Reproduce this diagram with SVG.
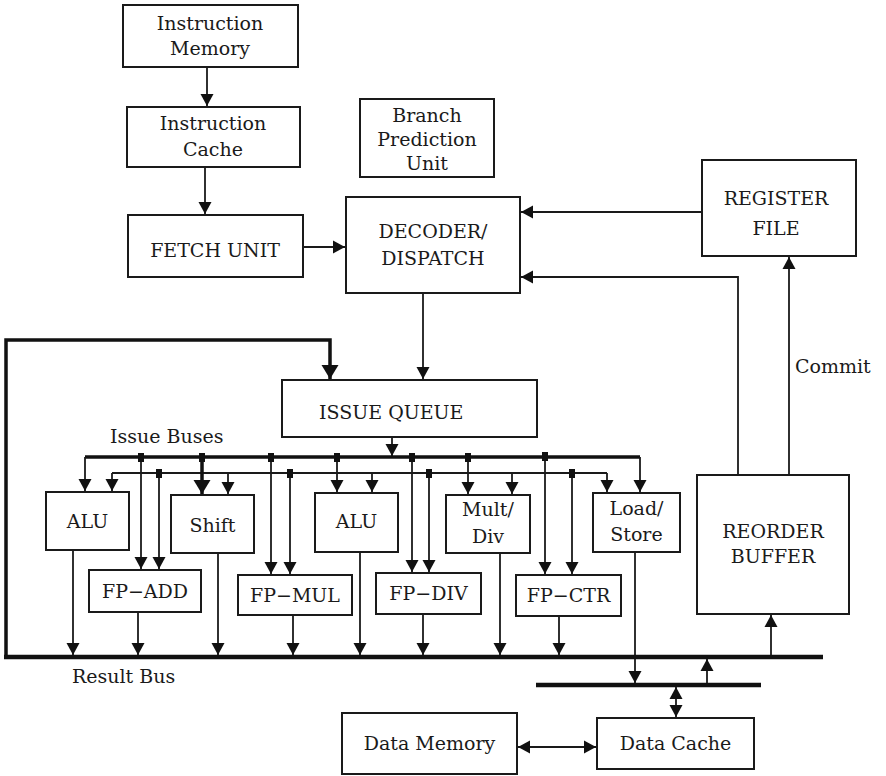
<svg xmlns="http://www.w3.org/2000/svg" width="886" height="776" viewBox="0 0 886 776">
  <style>
    .box { fill: #fff; stroke: #1a1a1a; stroke-width: 2; }
    text { font-family: "DejaVu Serif", "Liberation Serif", serif; font-size: 19px; fill: #1a1a1a; }
    .lbl { text-anchor: middle; }
    .lbl-s { text-anchor: start; }
    .wire { fill: none; stroke: #1a1a1a; stroke-width: 1.8; }
    .wire-a { fill: none; stroke: #1a1a1a; stroke-width: 1.8; marker-end: url(#arr); }
    .wire-d { fill: none; stroke: #1a1a1a; stroke-width: 1.8; marker-start: url(#arr); marker-end: url(#arr); }
    .bus { fill: none; stroke: #111; stroke-width: 4.5; }
    .bus-i { fill: none; stroke: #111; stroke-width: 3.5; }
    .thick-a { fill: none; stroke: #111; stroke-width: 3.5; marker-end: url(#arrBig); }
    .tap { fill: #111; }
  </style>
  <defs>
    <marker id="arr" markerUnits="userSpaceOnUse" markerWidth="14" markerHeight="14" refX="12" refY="7" orient="auto-start-reverse">
      <path d="M0,0.5 L12,7 L0,13.5 z" fill="#111"/>
    </marker>
    <marker id="arrBig" markerUnits="userSpaceOnUse" markerWidth="15" markerHeight="18" refX="14" refY="9" orient="auto">
      <path d="M0,0.5 L14,9 L0,17.5 z" fill="#111"/>
    </marker>
  </defs>

  <!-- connectors -->
  <g id="connectors">
    <!-- front end -->
    <path class="wire-a" d="M207,67 L207,106"/>
    <path class="wire-a" d="M205,167 L205,214"/>
    <path class="wire-a" d="M303,247 L345,247"/>
    <path class="wire-a" d="M702,212 L521,212"/>
    <path class="wire-a" d="M738,475 L738,277 L521,277"/>
    <path class="wire-a" d="M789,475 L789,257"/>
    <path class="wire-a" d="M423,293 L423,379"/>

    <!-- result feedback loop into the issue queue -->
    <path class="thick-a" d="M6,657 L6,340 L330,340 L330,379"/>

    <!-- issue queue onto issue buses -->
    <path class="wire-a" d="M392,437 L392,456"/>

    <!-- issue buses -->
    <path class="bus-i" d="M85,457 L640,457"/>
    <path class="wire" d="M112,473 L607,473"/>
    <path class="wire-a" d="M85,457 L85,491"/>
    <path class="wire-a" d="M112,473 L112,491"/>
    <path class="wire-a" d="M640,457 L640,492"/>
    <path class="wire-a" d="M607,473 L607,492"/>

    <!-- taps to units -->
    <path class="wire-a" d="M141,457 L141,569"/>
    <path class="wire-a" d="M159,473 L159,569"/>
    <path class="thick-a" d="M202,457 L202,494"/>
    <path class="wire-a" d="M228,473 L228,494"/>
    <path class="wire-a" d="M271,457 L271,574"/>
    <path class="wire-a" d="M290,473 L290,574"/>
    <path class="wire-a" d="M337,457 L337,492"/>
    <path class="wire-a" d="M372,473 L372,492"/>
    <path class="wire-a" d="M412,457 L412,572"/>
    <path class="wire-a" d="M429,473 L429,572"/>
    <path class="wire-a" d="M468,457 L468,494"/>
    <path class="wire-a" d="M512,473 L512,494"/>
    <path class="wire-a" d="M545,457 L545,574"/>
    <path class="wire-a" d="M572,473 L572,574"/>

    <!-- bus tap marks -->
    <rect class="tap" x="138" y="453" width="6" height="9"/>
    <rect class="tap" x="199" y="453" width="6" height="9"/>
    <rect class="tap" x="268" y="453" width="6" height="9"/>
    <rect class="tap" x="334" y="453" width="6" height="9"/>
    <rect class="tap" x="409" y="453" width="6" height="9"/>
    <rect class="tap" x="465" y="453" width="6" height="9"/>
    <rect class="tap" x="542" y="452" width="6" height="9"/>
    <rect class="tap" x="156" y="469" width="6" height="9"/>
    <rect class="tap" x="287" y="469" width="6" height="9"/>
    <rect class="tap" x="426" y="469" width="6" height="9"/>
    <rect class="tap" x="569" y="469" width="6" height="9"/>

    <!-- unit outputs onto result bus -->
    <path class="wire-a" d="M73,550 L73,655"/>
    <path class="wire-a" d="M138,612 L138,655"/>
    <path class="wire-a" d="M218,553 L218,655"/>
    <path class="wire-a" d="M293,615 L293,655"/>
    <path class="wire-a" d="M360,552 L360,655"/>
    <path class="wire-a" d="M423,614 L423,655"/>
    <path class="wire-a" d="M500,553 L500,655"/>
    <path class="wire-a" d="M559,616 L559,655"/>
    <path class="wire-a" d="M635,552 L635,683"/>

    <!-- result bus and memory bus -->
    <path class="bus" d="M4,657 L823,657"/>
    <path class="bus" d="M536,685 L761,685"/>
    <path class="wire-a" d="M771,655 L771,615"/>
    <path class="wire-a" d="M707,683 L707,659"/>
    <path class="wire-d" d="M676,687 L676,717"/>
    <path class="wire-d" d="M518,747 L596,747"/>
  </g>

  <!-- nodes -->
  <g id="instruction-memory">
    <rect class="box" x="123" y="5" width="175" height="62"/>
    <text class="lbl" x="210" y="30">Instruction</text>
    <text class="lbl" x="210" y="55">Memory</text>
  </g>
  <g id="instruction-cache">
    <rect class="box" x="127" y="107" width="173" height="60"/>
    <text class="lbl" x="213" y="130">Instruction</text>
    <text class="lbl" x="213" y="156">Cache</text>
  </g>
  <g id="fetch-unit">
    <rect class="box" x="128" y="215" width="175" height="62"/>
    <text class="lbl" x="215" y="257">FETCH UNIT</text>
  </g>
  <g id="branch-prediction">
    <rect class="box" x="360" y="99" width="134" height="78"/>
    <text class="lbl" x="427" y="122">Branch</text>
    <text class="lbl" x="427" y="146">Prediction</text>
    <text class="lbl" x="427" y="170">Unit</text>
  </g>
  <g id="decoder-dispatch">
    <rect class="box" x="346" y="197" width="174" height="96"/>
    <text class="lbl" x="433" y="238">DECODER/</text>
    <text class="lbl" x="433" y="265">DISPATCH</text>
  </g>
  <g id="register-file">
    <rect class="box" x="702" y="160" width="154" height="96"/>
    <text class="lbl" x="776" y="205">REGISTER</text>
    <text class="lbl" x="776" y="235">FILE</text>
  </g>
  <g id="issue-queue">
    <rect class="box" x="282" y="380" width="255" height="57"/>
    <text class="lbl-s" x="319" y="419">ISSUE QUEUE</text>
  </g>
  <g id="alu-1">
    <rect class="box" x="46" y="492" width="83" height="58"/>
    <text class="lbl" x="87.5" y="528">ALU</text>
  </g>
  <g id="fp-add">
    <rect class="box" x="89" y="570" width="112" height="42"/>
    <text class="lbl" x="145" y="598">FP−ADD</text>
  </g>
  <g id="shift">
    <rect class="box" x="171" y="495" width="83" height="58"/>
    <text class="lbl" x="212.5" y="532">Shift</text>
  </g>
  <g id="fp-mul">
    <rect class="box" x="238" y="575" width="114" height="40"/>
    <text class="lbl" x="295" y="602">FP−MUL</text>
  </g>
  <g id="alu-2">
    <rect class="box" x="315" y="493" width="83" height="59"/>
    <text class="lbl" x="356.5" y="528">ALU</text>
  </g>
  <g id="fp-div">
    <rect class="box" x="376" y="573" width="105" height="41"/>
    <text class="lbl" x="428.5" y="600">FP−DIV</text>
  </g>
  <g id="mult-div">
    <rect class="box" x="446" y="495" width="84" height="58"/>
    <text class="lbl" x="488" y="516">Mult/</text>
    <text class="lbl" x="488" y="543">Div</text>
  </g>
  <g id="fp-ctr">
    <rect class="box" x="516" y="575" width="105" height="41"/>
    <text class="lbl" x="568.5" y="602">FP−CTR</text>
  </g>
  <g id="load-store">
    <rect class="box" x="593" y="493" width="87" height="59"/>
    <text class="lbl" x="636.5" y="515">Load/</text>
    <text class="lbl" x="636.5" y="541">Store</text>
  </g>
  <g id="reorder-buffer">
    <rect class="box" x="697" y="475" width="152" height="139"/>
    <text class="lbl" x="773" y="538">REORDER</text>
    <text class="lbl" x="773" y="563">BUFFER</text>
  </g>
  <g id="data-memory">
    <rect class="box" x="342" y="713" width="175" height="61"/>
    <text class="lbl" x="429.5" y="750">Data Memory</text>
  </g>
  <g id="data-cache">
    <rect class="box" x="597" y="718" width="157" height="51"/>
    <text class="lbl" x="675.5" y="750">Data Cache</text>
  </g>

  <!-- bus labels -->
  <g id="labels">
    <text class="lbl-s" x="110" y="443">Issue Buses</text>
    <text class="lbl-s" x="72" y="683">Result Bus</text>
    <text class="lbl-s" x="795" y="373">Commit</text>
  </g>
</svg>
